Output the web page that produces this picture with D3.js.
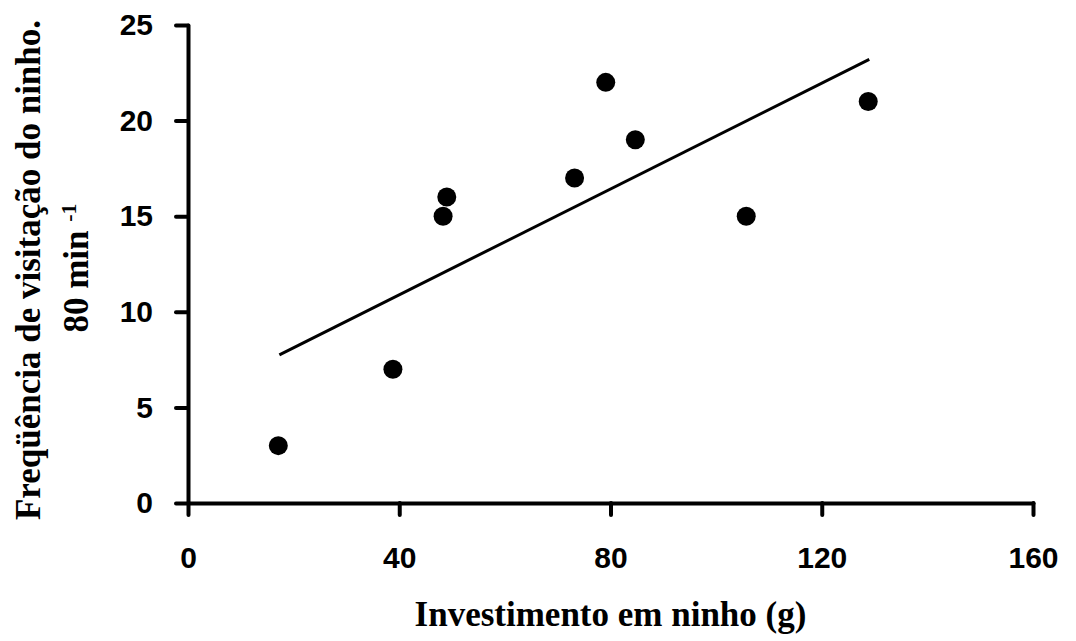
<!DOCTYPE html>
<html>
<head>
<meta charset="utf-8">
<script src="https://cdn.jsdelivr.net/npm/d3@7"></script>
<style>
	body { margin: 0; background: #fff; }
	.axis path, .axis line { stroke: #000; stroke-width: 4; stroke-linecap: round; }
	.axis text { font-family: "Liberation Sans", Arial, sans-serif; font-weight: bold; font-size: 30px; fill: #000; }
	.title { font-family: "Liberation Serif", "Times New Roman", serif; font-weight: bold; font-size: 35px; fill: #000; }
</style>
</head>
<body>
<svg id="chart"></svg>
<script>
// investment in nest (g) and visit frequency per 80 min
const investimento = [17.1, 38.8, 48.3, 49.0, 73.2, 79.1, 84.7, 105.7, 128.8];
const frequencia = [3, 7, 15, 16, 17, 22, 19, 15, 21];

// fitted line, end points as drawn
const trendX = [17.3, 129.0];
const trendY = [7.75, 23.2];

const xTicks = [0, 40, 80, 120, 160];
const yTicks = [0, 5, 10, 15, 20, 25];

const WIDTH = 1076,
	HEIGHT = 641,
	MARGINS = { top: 25, right: 43, bottom: 138, left: 188 };

let svg = d3.select("#chart")
	.attr("width", WIDTH)
	.attr("height", HEIGHT);

let xScale = d3.scaleLinear()
	.domain([0, 160])
	.range([MARGINS.left, WIDTH - MARGINS.right]);

let yScale = d3.scaleLinear()
	.domain([0, 25])
	.range([HEIGHT - MARGINS.bottom, MARGINS.top]);

let xAxis = d3.axisBottom(xScale)
	.tickValues(xTicks)
	.tickSize(12)
	.tickSizeOuter(0)
	.tickPadding(32);

let yAxis = d3.axisLeft(yScale)
	.tickValues(yTicks)
	.tickSize(12)
	.tickSizeOuter(0)
	.tickPadding(23);

svg.append("g")
	.attr("class", "axis")
	.attr("transform", "translate(0," + (HEIGHT - MARGINS.bottom) + ")")
	.call(xAxis);

svg.append("g")
	.attr("class", "axis")
	.attr("transform", "translate(" + MARGINS.left + ",0)")
	.call(yAxis);

// trend line
let lineGen = d3.line()
	.x(function (d, i) { return xScale(trendX[i]); })
	.y(function (d) { return yScale(d); });

svg.append("path")
	.attr("d", lineGen(trendY))
	.attr("stroke", "#000")
	.attr("stroke-width", 3)
	.attr("fill", "none");

// points
svg.selectAll("circle.pt")
	.data(investimento)
	.enter()
	.append("circle")
	.attr("class", "pt")
	.attr("cx", function (d) { return xScale(d); })
	.attr("cy", function (d, i) { return yScale(frequencia[i]); })
	.attr("r", 9.5)
	.attr("fill", "#000");

// axis titles
svg.append("text")
	.attr("class", "title")
	.attr("x", (MARGINS.left + WIDTH - MARGINS.right) / 2)
	.attr("y", 626)
	.attr("text-anchor", "middle")
	.text("Investimento em ninho (g)");

svg.append("text")
	.attr("class", "title")
	.attr("transform", "translate(40,270) rotate(-90)")
	.attr("text-anchor", "middle")
	.text("Freqüência de visitação do ninho.");

let line2 = svg.append("text")
	.attr("class", "title")
	.attr("transform", "translate(88,268) rotate(-90)")
	.attr("text-anchor", "middle");
line2.append("tspan").text("80 min ");
line2.append("tspan")
	.attr("dy", -12)
	.style("font-size", "22px")
	.text("-1");
</script>
</body>
</html>
